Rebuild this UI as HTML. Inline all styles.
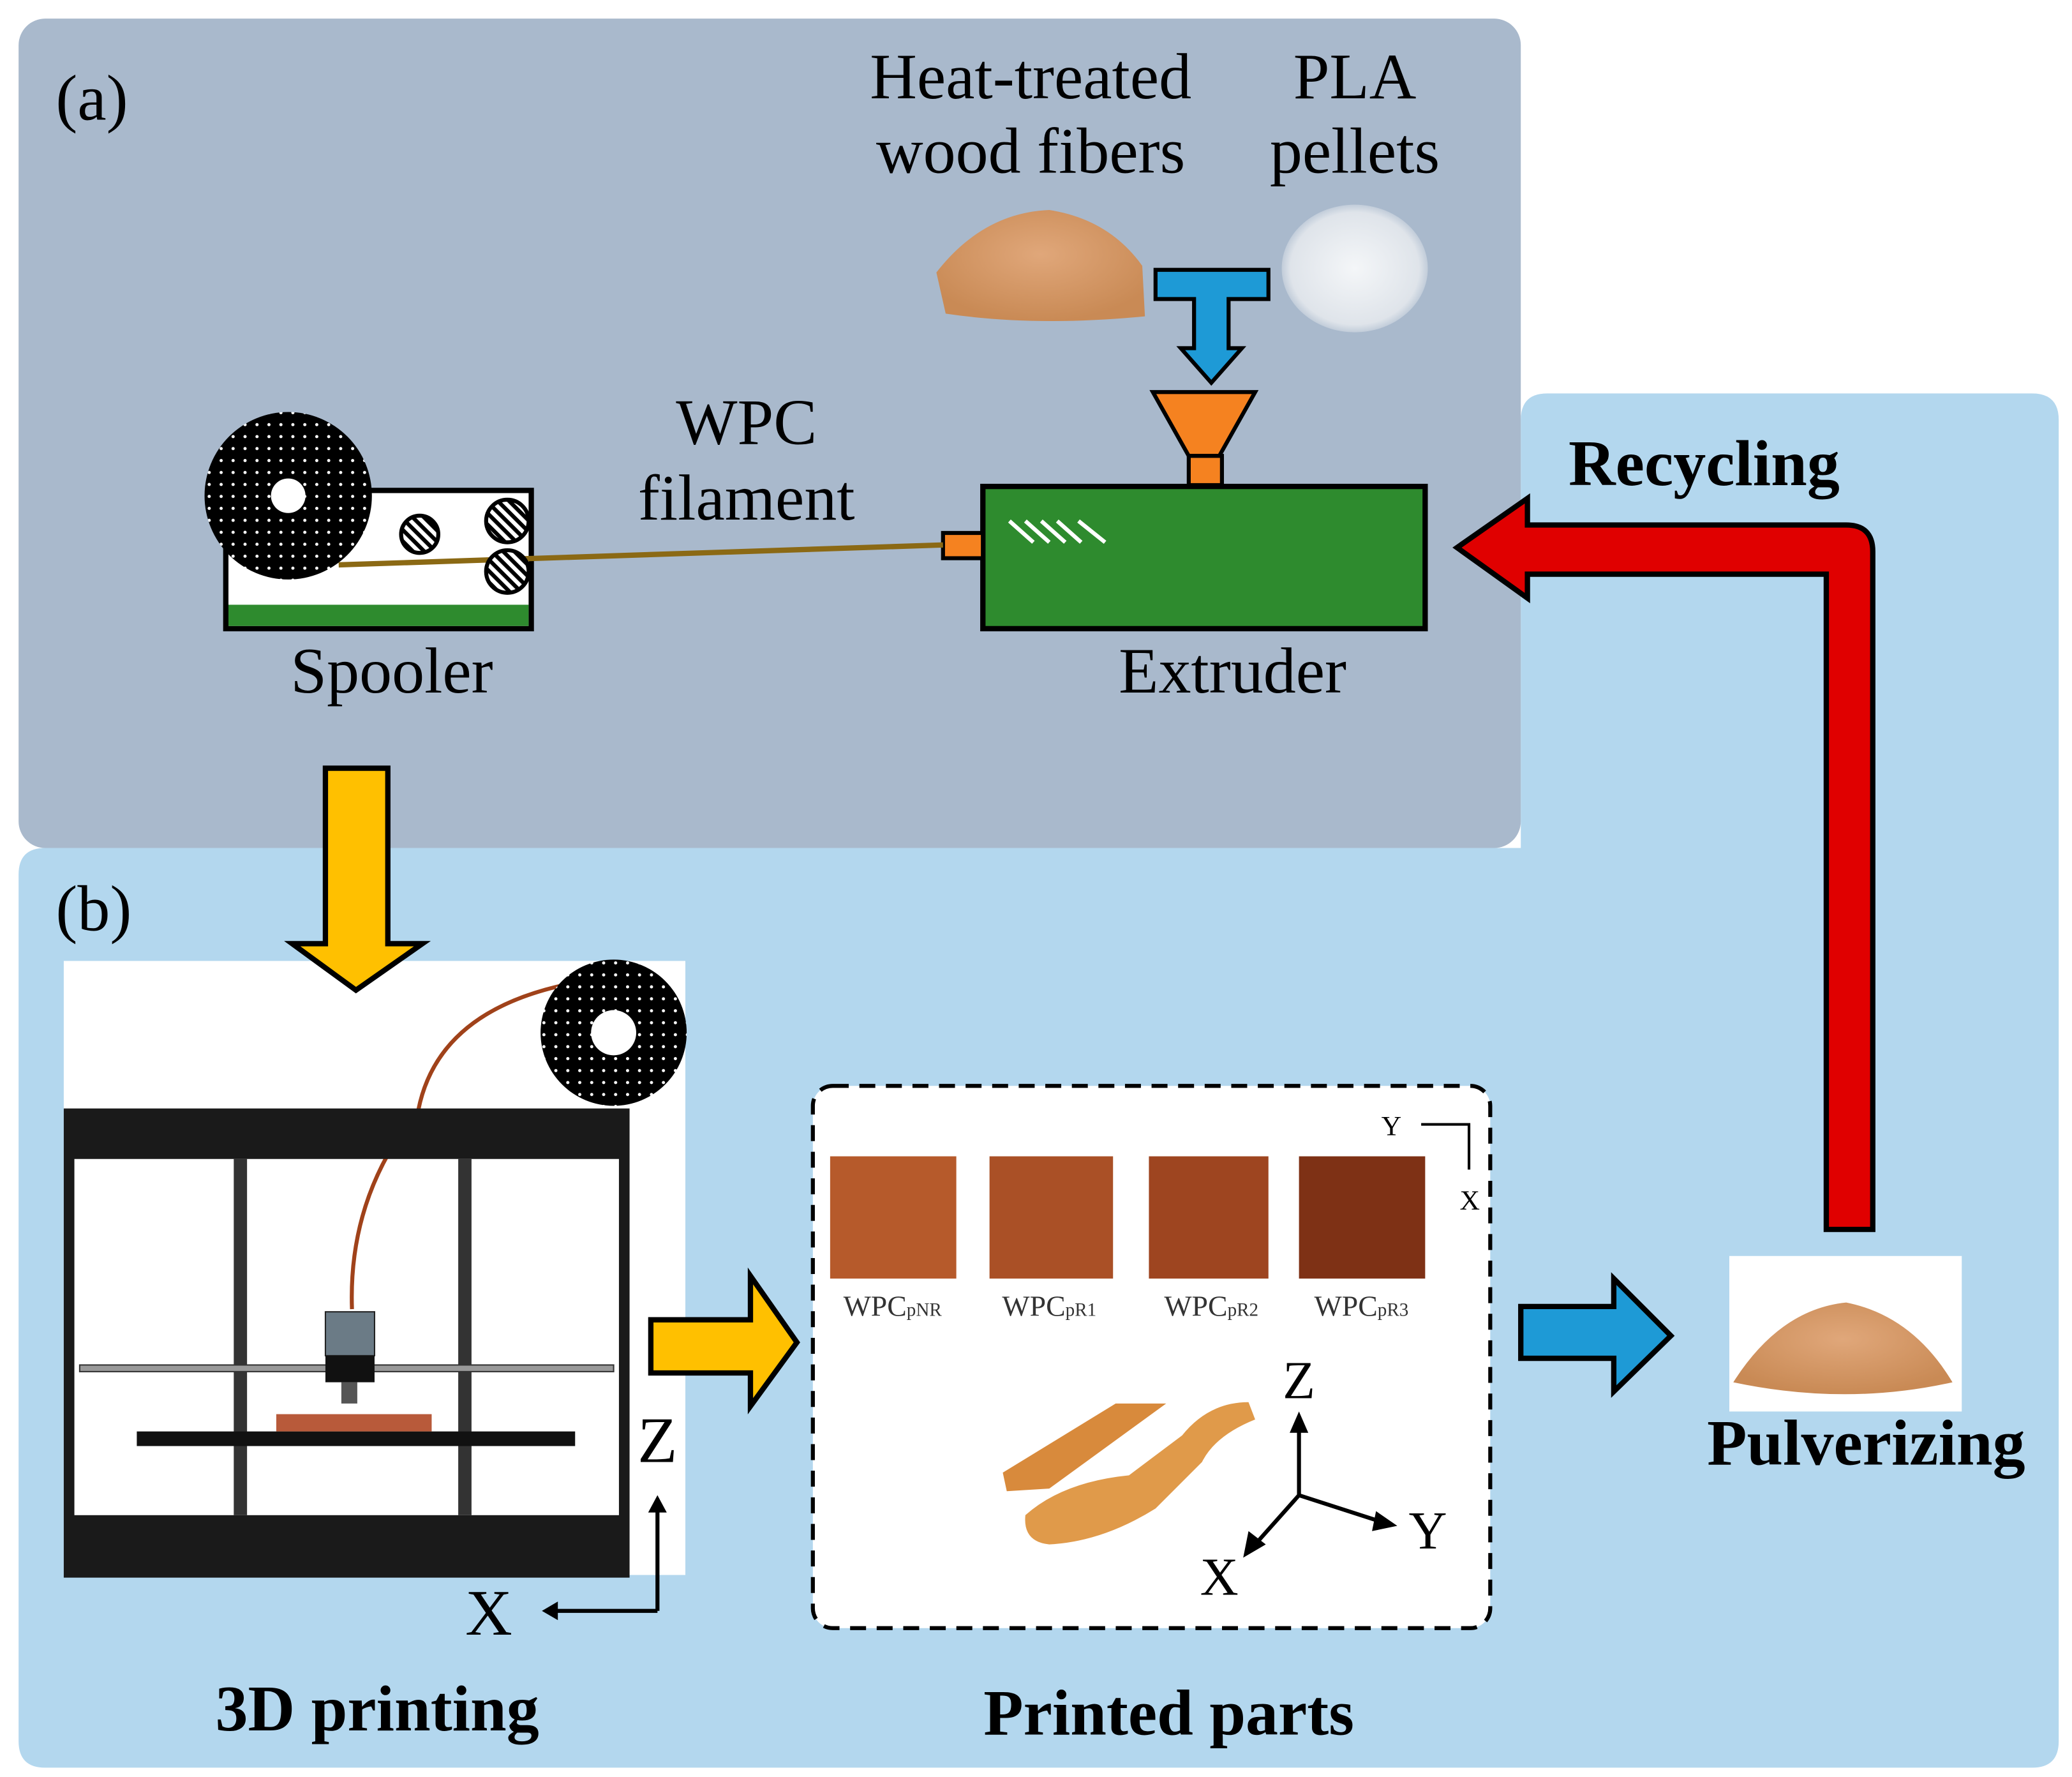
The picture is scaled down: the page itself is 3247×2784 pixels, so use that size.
<!DOCTYPE html>
<html><head><meta charset="utf-8"><style>html,body{margin:0;padding:0;background:#fff}svg{display:block}</style></head>
<body>
<svg width="3247" height="2784" viewBox="0 0 1560 1337" preserveAspectRatio="none" xmlns="http://www.w3.org/2000/svg" font-family="'Liberation Serif', serif">
<defs>
<pattern id="dots" width="9" height="9" patternUnits="userSpaceOnUse"><rect width="9" height="9" fill="#000"/><circle cx="4.5" cy="4.5" r="1.2" fill="#fff"/></pattern>
<pattern id="stripes" width="6" height="6" patternUnits="userSpaceOnUse" patternTransform="rotate(-45)"><rect width="6" height="6" fill="#000"/><rect width="3" height="6" fill="#fff"/></pattern>
<radialGradient id="sand" cx="50%" cy="40%" r="60%"><stop offset="0" stop-color="#e0a77a"/><stop offset="1" stop-color="#c98a55"/></radialGradient>
<radialGradient id="pel" cx="50%" cy="50%" r="55%"><stop offset="0" stop-color="#f4f6f8"/><stop offset="0.8" stop-color="#dfe4ea"/><stop offset="1" stop-color="#a9b9cc"/></radialGradient>
</defs>
<rect width="1560" height="1337" fill="#fff"/>
<path d="M34,638 H1145 V316 Q1145,296 1165,296 H1530 Q1550,296 1550,316 V1310 Q1550,1330 1530,1330 H34 Q14,1330 14,1310 V658 Q14,638 34,638 Z" fill="#b3d7ee"/>
<rect x="14" y="14" width="1131" height="624" rx="20" fill="#a9b9cc"/>
<text x="42" y="90" font-size="49">(a)</text>
<text x="42" y="700" font-size="49">(b)</text>
<g font-size="49" text-anchor="middle">
<text x="776" y="74">Heat-treated</text><text x="776" y="130">wood fibers</text>
<text x="1020" y="74">PLA</text><text x="1020" y="130">pellets</text>
<text x="562" y="334">WPC</text><text x="562" y="391">filament</text>
<text x="295" y="521">Spooler</text><text x="928" y="521">Extruder</text>
</g>
<path d="M705,205 Q740,160 790,158 Q835,165 860,200 L862,238 Q780,246 712,236 Z" fill="url(#sand)"/>
<ellipse cx="1020" cy="202" rx="55" ry="48" fill="url(#pel)"/>
<path d="M870,203 H955 V225 H925 V262 H935 L912,288 L889,262 H899 V225 H870 Z" fill="#1e9ad6" stroke="#000" stroke-width="3"/>
<path d="M868,295 H945 L918,343 H895 Z" fill="#f58220" stroke="#000" stroke-width="3"/>
<rect x="895" y="343" width="25" height="22" fill="#f58220" stroke="#000" stroke-width="3"/>
<rect x="740" y="366" width="333" height="107" fill="#2e8b2e" stroke="#000" stroke-width="4"/>
<g stroke="#fff" stroke-width="3"><line x1="760" y1="392" x2="778" y2="408"/><line x1="772" y1="392" x2="790" y2="408"/><line x1="784" y1="392" x2="802" y2="408"/><line x1="796" y1="392" x2="814" y2="408"/><line x1="812" y1="392" x2="832" y2="408"/></g>
<rect x="710" y="401" width="30" height="19" fill="#f58220" stroke="#000" stroke-width="3"/>
<rect x="170" y="369" width="230" height="104" fill="#fff" stroke="#000" stroke-width="4"/>
<rect x="172" y="455" width="226" height="16" fill="#2e8b2e"/>
<line x1="255" y1="425" x2="710" y2="410" stroke="#8b6914" stroke-width="4"/>
<circle cx="217" cy="373" r="63" fill="url(#dots)"/>
<circle cx="217" cy="373" r="13" fill="#fff"/>
<circle cx="316" cy="402" r="14" fill="url(#stripes)" stroke="#000" stroke-width="3"/>
<circle cx="382" cy="392" r="16" fill="url(#stripes)" stroke="#000" stroke-width="3"/>
<circle cx="382" cy="430" r="16" fill="url(#stripes)" stroke="#000" stroke-width="3"/>
<text x="1283" y="365" font-size="49" font-weight="bold" text-anchor="middle">Recycling</text>
<path d="M1375,925 V432 H1150 V450 L1097,412 L1150,375 V395 H1390 Q1410,395 1410,415 V925 Z" fill="#e00000" stroke="#000" stroke-width="4"/>
<!-- printer -->
<rect x="48" y="723" width="468" height="462" fill="#fff"/>
<path d="M315,835 Q330,760 430,740" fill="none" stroke="#a0421a" stroke-width="3"/>
<path d="M265,985 Q262,900 315,835" fill="none" stroke="#a0421a" stroke-width="3"/>
<circle cx="462" cy="777" r="55" fill="url(#dots)"/>
<circle cx="462" cy="777" r="17" fill="#fff"/>
<rect x="52" y="838" width="418" height="345" fill="none" stroke="#1a1a1a" stroke-width="8"/>
<rect x="52" y="838" width="418" height="34" fill="#1a1a1a"/>
<rect x="52" y="1140" width="418" height="43" fill="#1a1a1a"/>
<rect x="176" y="872" width="10" height="268" fill="#333"/>
<rect x="345" y="872" width="10" height="268" fill="#333"/>
<rect x="60" y="1027" width="402" height="5" fill="#999" stroke="#333" stroke-width="1"/>
<rect x="103" y="1077" width="330" height="11" fill="#111"/>
<rect x="208" y="1064" width="117" height="13" fill="#b85a3a"/>
<rect x="245" y="987" width="37" height="33" fill="#6b7b86" stroke="#222"/>
<rect x="245" y="1020" width="37" height="20" fill="#111"/>
<rect x="257" y="1040" width="12" height="16" fill="#555"/>
<!-- yellow down arrow -->
<path d="M245,578 H292 V710 H318 L268,745 L220,710 H245 Z" fill="#ffc000" stroke="#000" stroke-width="4"/>
<g stroke="#000" stroke-width="3" fill="none"><path d="M495,1212 V1135"/><path d="M495,1212 H418"/></g>
<path d="M488,1138 L495,1125 L502,1138 Z M420,1205 L408,1212 L420,1219 Z" fill="#000"/>
<text x="495" y="1100" font-size="49" text-anchor="middle">Z</text>
<text x="368" y="1230" font-size="49" text-anchor="middle">X</text>
<text x="284" y="1302" font-size="49" font-weight="bold" text-anchor="middle">3D printing</text>
<path d="M490,993 H565 V960 L600,1010 L565,1058 V1033 H490 Z" fill="#ffc000" stroke="#000" stroke-width="4"/>
<rect x="612" y="817" width="510" height="408" rx="15" fill="#fff" stroke="#000" stroke-width="3" stroke-dasharray="12,8"/>
<rect x="625" y="870" width="95" height="92" fill="#b65a2b"/>
<rect x="745" y="870" width="93" height="92" fill="#aa5026"/>
<rect x="865" y="870" width="90" height="92" fill="#9e4520"/>
<rect x="978" y="870" width="95" height="92" fill="#7e3115"/>
<g font-size="22" text-anchor="middle" fill="#333">
<text x="672" y="990">WPC<tspan font-size="14">pNR</tspan></text>
<text x="790" y="990">WPC<tspan font-size="14">pR1</tspan></text>
<text x="912" y="990">WPC<tspan font-size="14">pR2</tspan></text>
<text x="1025" y="990">WPC<tspan font-size="14">pR3</tspan></text>
</g>
<g stroke="#000" stroke-width="2" fill="none"><path d="M1070,846 H1106 V880"/></g>
<text x="1040" y="854" font-size="21">Y</text>
<text x="1099" y="910" font-size="21">X</text>
<path d="M755,1108 L840,1056 L878,1056 L790,1120 L758,1122 Z" fill="#d88a3c"/>
<path d="M772,1140 Q800,1115 850,1110 L890,1080 Q910,1055 940,1055 L945,1068 Q915,1080 905,1100 L870,1135 Q830,1160 790,1162 Q770,1160 772,1140 Z" fill="#e09a4a"/>
<g stroke="#000" stroke-width="3"><line x1="978" y1="1125" x2="978" y2="1075"/><line x1="978" y1="1125" x2="1040" y2="1145"/><line x1="978" y1="1125" x2="945" y2="1162"/></g>
<path d="M971,1078 L978,1062 L985,1078 Z M1036,1137 L1052,1148 L1033,1152 Z M940,1152 L936,1172 L953,1162 Z" fill="#000"/>
<text x="978" y="1052" font-size="40" text-anchor="middle">Z</text>
<text x="1075" y="1165" font-size="40" text-anchor="middle">Y</text>
<text x="918" y="1200" font-size="40" text-anchor="middle">X</text>
<text x="880" y="1305" font-size="49" font-weight="bold" text-anchor="middle">Printed parts</text>
<path d="M1145,983 H1215 V962 L1258,1005 L1215,1047 V1022 H1145 Z" fill="#1e9ad6" stroke="#000" stroke-width="4"/>
<rect x="1302" y="945" width="175" height="117" fill="#fff"/>
<path d="M1305,1040 Q1340,985 1390,980 Q1440,990 1470,1040 Q1390,1058 1305,1040 Z" fill="url(#sand)"/>
<text x="1405" y="1102" font-size="49" font-weight="bold" text-anchor="middle">Pulverizing</text>
</svg>
</body></html>
